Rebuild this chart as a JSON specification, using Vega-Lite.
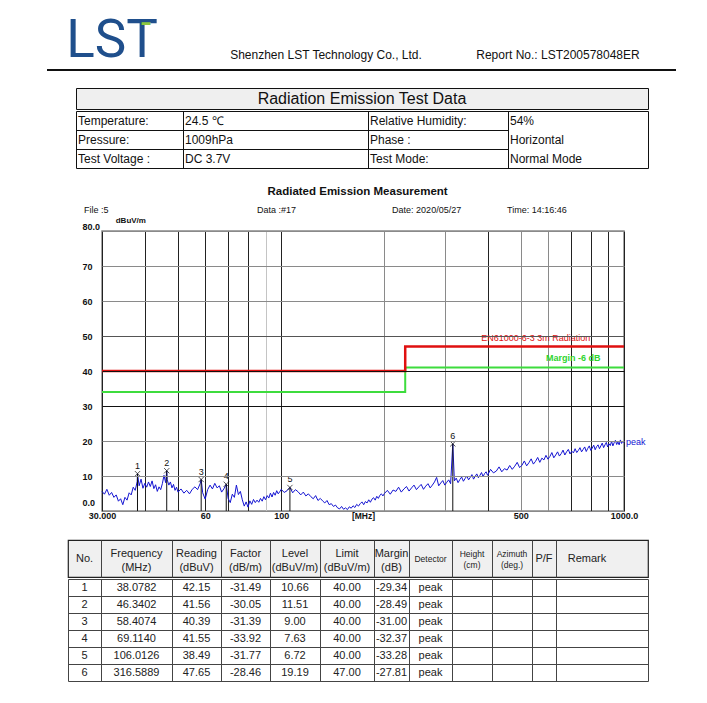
{
  "$schema": "https://vega.github.io/schema/vega-lite/v6.json",
  "padding": 0,
  "background": "white",
  "spacing": 0,
  "config": {"view": {"stroke": null}, "concat": {"spacing": 0}, "font": "Liberation Sans"},
  "datasets": {
    "info": [
      {"r": 0, "c": 0, "t": "Temperature:"}, {"r": 0, "c": 1, "t": "24.5 ℃"}, {"r": 0, "c": 2, "t": "Relative Humidity:"}, {"r": 0, "c": 3, "t": "54%"},
      {"r": 1, "c": 0, "t": "Pressure:"}, {"r": 1, "c": 1, "t": "1009hPa"}, {"r": 1, "c": 2, "t": "Phase :"}, {"r": 1, "c": 3, "t": "Horizontal"},
      {"r": 2, "c": 0, "t": "Test Voltage :"}, {"r": 2, "c": 1, "t": "DC 3.7V"}, {"r": 2, "c": 2, "t": "Test Mode:"}, {"r": 2, "c": 3, "t": "Normal Mode"}
    ],
    "limit": [{"f": 30, "v": 40}, {"f": 230, "v": 47}, {"f": 1000, "v": 47}],
    "margin": [{"f": 30, "v": 34}, {"f": 230, "v": 41}, {"f": 1000, "v": 41}],
    "peaks": [
      {"no": 1, "f": 38.0782, "v": 10.66}, {"no": 2, "f": 46.3402, "v": 11.51}, {"no": 3, "f": 58.4074, "v": 9.0},
      {"no": 4, "f": 69.114, "v": 7.63}, {"no": 5, "f": 106.0126, "v": 6.72}, {"no": 6, "f": 316.5889, "v": 19.19}
    ],
    "ann": [
      {"k": "title", "f": 167, "v": 91.1, "t": "Radiated Emission Measurement"},
      {"k": "meta", "f": 26.6, "v": 86, "t": "File :5"},
      {"k": "meta", "f": 85, "v": 86, "t": "Data :#17"},
      {"k": "meta", "f": 210.6, "v": 86, "t": "Date: 2020/05/27"},
      {"k": "meta", "f": 456, "v": 86, "t": "Time: 14:16:46"},
      {"k": "unit", "f": 32.9, "v": 82.9, "t": "dBuV/m"},
      {"k": "lim", "f": 553, "v": 49.4, "t": "EN61000-6-3 3m Radiation"},
      {"k": "mar", "f": 711, "v": 43.7, "t": "Margin -6 dB"},
      {"k": "peak", "f": 1000, "v": 19.7, "t": "peak"}
    ],
    "thead": [
      {"c": 0, "t": "No."}, {"c": 1, "t": "Frequency\n(MHz)"}, {"c": 2, "t": "Reading\n(dBuV)"}, {"c": 3, "t": "Factor\n(dB/m)"},
      {"c": 4, "t": "Level\n(dBuV/m)"}, {"c": 5, "t": "Limit\n(dBuV/m)"}, {"c": 6, "t": "Margin\n(dB)"}, {"c": 7, "t": "Detector"},
      {"c": 8, "t": "Height\n(cm)"}, {"c": 9, "t": "Azimuth\n(deg.)"}, {"c": 10, "t": "P/F"}, {"c": 11, "t": "Remark"}
    ],
    "tbl": [
      {"r": 1, "c": 0, "t": "1"}, {"r": 1, "c": 1, "t": "38.0782"}, {"r": 1, "c": 2, "t": "42.15"}, {"r": 1, "c": 3, "t": "-31.49"}, {"r": 1, "c": 4, "t": "10.66"}, {"r": 1, "c": 5, "t": "40.00"}, {"r": 1, "c": 6, "t": "-29.34"}, {"r": 1, "c": 7, "t": "peak"},
      {"r": 2, "c": 0, "t": "2"}, {"r": 2, "c": 1, "t": "46.3402"}, {"r": 2, "c": 2, "t": "41.56"}, {"r": 2, "c": 3, "t": "-30.05"}, {"r": 2, "c": 4, "t": "11.51"}, {"r": 2, "c": 5, "t": "40.00"}, {"r": 2, "c": 6, "t": "-28.49"}, {"r": 2, "c": 7, "t": "peak"},
      {"r": 3, "c": 0, "t": "3"}, {"r": 3, "c": 1, "t": "58.4074"}, {"r": 3, "c": 2, "t": "40.39"}, {"r": 3, "c": 3, "t": "-31.39"}, {"r": 3, "c": 4, "t": "9.00"}, {"r": 3, "c": 5, "t": "40.00"}, {"r": 3, "c": 6, "t": "-31.00"}, {"r": 3, "c": 7, "t": "peak"},
      {"r": 4, "c": 0, "t": "4"}, {"r": 4, "c": 1, "t": "69.1140"}, {"r": 4, "c": 2, "t": "41.55"}, {"r": 4, "c": 3, "t": "-33.92"}, {"r": 4, "c": 4, "t": "7.63"}, {"r": 4, "c": 5, "t": "40.00"}, {"r": 4, "c": 6, "t": "-32.37"}, {"r": 4, "c": 7, "t": "peak"},
      {"r": 5, "c": 0, "t": "5"}, {"r": 5, "c": 1, "t": "106.0126"}, {"r": 5, "c": 2, "t": "38.49"}, {"r": 5, "c": 3, "t": "-31.77"}, {"r": 5, "c": 4, "t": "6.72"}, {"r": 5, "c": 5, "t": "40.00"}, {"r": 5, "c": 6, "t": "-33.28"}, {"r": 5, "c": 7, "t": "peak"},
      {"r": 6, "c": 0, "t": "6"}, {"r": 6, "c": 1, "t": "316.5889"}, {"r": 6, "c": 2, "t": "47.65"}, {"r": 6, "c": 3, "t": "-28.46"}, {"r": 6, "c": 4, "t": "19.19"}, {"r": 6, "c": 5, "t": "47.00"}, {"r": 6, "c": 6, "t": "-27.81"}, {"r": 6, "c": 7, "t": "peak"}
    ],
    "trace": [
      {"f":30,"v":5.6},{"f":30.5,"v":4.8},{"f":31,"v":6.2},{"f":31.5,"v":4.5},{"f":32,"v":5.3},{"f":32.5,"v":3.9},{"f":33,"v":4.6},{"f":33.5,"v":2.8},{"f":34,"v":3.5},{"f":34.5,"v":1.8},
      {"f":35,"v":3.9},{"f":35.5,"v":3.1},{"f":36,"v":5.2},{"f":36.5,"v":4.6},{"f":37,"v":6.8},{"f":37.5,"v":5.9},{"f":38,"v":8.4},{"f":38.0782,"v":10.66},{"f":38.5,"v":7.2},{"f":39,"v":9.1},
      {"f":39.5,"v":6.5},{"f":40,"v":7.9},{"f":40.5,"v":6.8},{"f":41,"v":8.3},{"f":41.5,"v":7.0},{"f":42,"v":8.6},{"f":42.5,"v":6.4},{"f":43,"v":7.5},{"f":43.5,"v":5.6},{"f":44,"v":6.9},
      {"f":44.5,"v":6.1},{"f":45,"v":7.8},{"f":45.5,"v":10.2},{"f":46,"v":8.1},{"f":46.3402,"v":11.51},{"f":46.5,"v":8.9},{"f":47,"v":7.4},{"f":47.5,"v":8.3},{"f":48,"v":6.6},{"f":48.5,"v":7.6},
      {"f":49,"v":5.9},{"f":49.5,"v":6.8},{"f":50,"v":5.4},{"f":51,"v":6.3},{"f":52,"v":5.1},{"f":53,"v":5.9},{"f":54,"v":4.9},{"f":55,"v":6.2},{"f":56,"v":6.9},{"f":57,"v":6.1},
      {"f":58,"v":7.8},{"f":58.4074,"v":9.0},{"f":59,"v":5.2},{"f":60,"v":3.4},{"f":61,"v":6.1},{"f":62,"v":7.4},{"f":63,"v":6.3},{"f":64,"v":7.9},{"f":65,"v":6.6},{"f":66,"v":7.2},
      {"f":67,"v":5.4},{"f":68,"v":6.3},{"f":69.114,"v":7.63},{"f":70,"v":3.6},{"f":71,"v":2.4},{"f":72,"v":4.8},{"f":73,"v":3.9},{"f":74,"v":7.4},{"f":75,"v":4.7},{"f":76,"v":5.6},
      {"f":77,"v":3.2},{"f":78,"v":1.4},{"f":79,"v":2.6},{"f":80,"v":1.1},{"f":81,"v":2.9},{"f":82,"v":1.9},{"f":83,"v":3.3},{"f":84,"v":2.4},{"f":85,"v":3.1},{"f":86,"v":2.5},
      {"f":87,"v":3.6},{"f":88,"v":2.8},{"f":89,"v":4.1},{"f":90,"v":3.2},{"f":91,"v":4.4},{"f":92,"v":3.7},{"f":93,"v":5.1},{"f":94,"v":4.0},{"f":95,"v":5.3},{"f":96,"v":4.5},
      {"f":97,"v":5.8},{"f":98,"v":4.9},{"f":99,"v":5.5},{"f":100,"v":6.2},{"f":102,"v":5.3},{"f":104,"v":5.8},{"f":106.0126,"v":6.72},{"f":108,"v":5.2},{"f":110,"v":6.1},{"f":112,"v":5.5},
      {"f":114,"v":4.6},{"f":116,"v":5.4},{"f":118,"v":4.3},{"f":120,"v":4.9},{"f":122,"v":4.1},{"f":124,"v":3.5},{"f":126,"v":4.4},{"f":128,"v":3.0},{"f":130,"v":3.6},{"f":132,"v":2.9},
      {"f":134,"v":2.3},{"f":136,"v":3.0},{"f":138,"v":1.8},{"f":140,"v":2.1},{"f":142,"v":1.3},{"f":144,"v":1.7},{"f":146,"v":0.9},{"f":148,"v":0.6},{"f":150,"v":1.3},{"f":152,"v":0.5},
      {"f":154,"v":0.9},{"f":156,"v":0.4},{"f":158,"v":1.2},{"f":160,"v":0.8},{"f":162,"v":1.5},{"f":164,"v":1.0},{"f":166,"v":1.9},{"f":168,"v":1.4},{"f":170,"v":2.1},{"f":172,"v":2.6},
      {"f":174,"v":1.8},{"f":176,"v":2.7},{"f":178,"v":2.3},{"f":180,"v":3.2},{"f":182,"v":2.5},{"f":184,"v":3.4},{"f":186,"v":3.8},{"f":188,"v":3.1},{"f":190,"v":4.2},{"f":192,"v":3.6},
      {"f":194,"v":4.5},{"f":196,"v":4.9},{"f":198,"v":4.3},{"f":200,"v":5.0},{"f":204,"v":5.9},{"f":208,"v":4.8},{"f":212,"v":6.0},{"f":216,"v":5.6},{"f":220,"v":6.8},{"f":224,"v":5.4},
      {"f":228,"v":6.3},{"f":232,"v":7.0},{"f":236,"v":5.7},{"f":240,"v":6.6},{"f":244,"v":7.4},{"f":248,"v":6.1},{"f":252,"v":6.9},{"f":256,"v":7.6},{"f":260,"v":6.2},{"f":264,"v":7.1},
      {"f":268,"v":7.8},{"f":272,"v":6.6},{"f":276,"v":7.4},{"f":280,"v":8.3},{"f":284,"v":9.6},{"f":288,"v":7.2},{"f":292,"v":8.0},{"f":296,"v":8.7},{"f":300,"v":7.4},{"f":304,"v":8.2},
      {"f":308,"v":8.9},{"f":312,"v":7.8},{"f":316.5889,"v":19.19},{"f":320,"v":8.6},{"f":324,"v":9.4},{"f":328,"v":8.1},{"f":332,"v":9.0},{"f":336,"v":9.7},{"f":340,"v":8.5},{"f":344,"v":9.3},
      {"f":348,"v":10.0},{"f":352,"v":8.9},{"f":356,"v":9.6},{"f":360,"v":10.4},{"f":364,"v":9.1},{"f":368,"v":9.9},{"f":372,"v":10.6},{"f":376,"v":9.5},{"f":380,"v":10.2},{"f":384,"v":11.0},
      {"f":388,"v":9.8},{"f":392,"v":10.7},{"f":396,"v":11.2},{"f":400,"v":10.2},{"f":408,"v":11.9},{"f":416,"v":10.9},{"f":424,"v":11.4},{"f":432,"v":12.6},{"f":440,"v":11.2},{"f":448,"v":12.1},
      {"f":456,"v":11.7},{"f":464,"v":13.0},{"f":472,"v":11.9},{"f":480,"v":12.8},{"f":488,"v":13.9},{"f":496,"v":12.4},{"f":504,"v":13.1},{"f":512,"v":14.3},{"f":520,"v":12.9},{"f":528,"v":13.8},
      {"f":536,"v":14.9},{"f":544,"v":13.4},{"f":552,"v":14.2},{"f":560,"v":15.3},{"f":568,"v":13.9},{"f":576,"v":15.1},{"f":584,"v":14.6},{"f":592,"v":15.9},{"f":600,"v":14.8},{"f":608,"v":15.6},
      {"f":616,"v":16.7},{"f":624,"v":15.2},{"f":632,"v":16.0},{"f":640,"v":16.9},{"f":648,"v":15.7},{"f":656,"v":16.4},{"f":664,"v":17.4},{"f":672,"v":16.0},{"f":680,"v":16.9},{"f":688,"v":17.6},
      {"f":696,"v":16.3},{"f":704,"v":17.1},{"f":712,"v":16.6},{"f":720,"v":17.8},{"f":728,"v":16.7},{"f":736,"v":17.3},{"f":744,"v":18.1},{"f":752,"v":16.9},{"f":760,"v":17.6},{"f":768,"v":18.3},
      {"f":776,"v":17.0},{"f":784,"v":17.9},{"f":792,"v":18.6},{"f":800,"v":17.3},{"f":808,"v":18.0},{"f":816,"v":18.8},{"f":824,"v":17.5},{"f":832,"v":18.4},{"f":840,"v":18.9},{"f":848,"v":17.8},
      {"f":856,"v":18.6},{"f":864,"v":19.4},{"f":872,"v":18.1},{"f":880,"v":18.9},{"f":888,"v":19.6},{"f":896,"v":18.3},{"f":904,"v":19.2},{"f":912,"v":18.7},{"f":920,"v":19.9},{"f":928,"v":18.6},
      {"f":936,"v":19.5},{"f":944,"v":20.2},{"f":952,"v":19.0},{"f":960,"v":19.7},{"f":968,"v":18.9},{"f":976,"v":20.3},{"f":984,"v":19.3},{"f":992,"v":20.0},{"f":1000,"v":19.5}
    ]
  },
  "vconcat": [
    {
      "spacing": 0,
      "hconcat": [
        {"width": 62, "height": 69, "data": {"values": []}, "mark": "text"},
        {"spacing": 0, "vconcat": [
          {"width": 1, "height": 8, "data": {"values": []}, "mark": "text"},
          {"width": 100, "height": 60, "data": {"values": [{"t": "LST", "g": "▬"}]},
           "layer": [
             {"mark": {"type": "text", "font": "Roboto", "fontSize": 53, "dy": 3, "color": "#1f4f8c"}, "encoding": {"text": {"field": "t"}}},
             {"mark": {"type": "text", "fontSize": 9, "color": "#8cc63f", "dx": 34, "dy": -16}, "encoding": {"text": {"field": "g"}}}
           ]}
        ]},
        {"width": 64, "height": 1, "data": {"values": []}, "mark": "text"},
        {"spacing": 0, "vconcat": [
          {"width": 1, "height": 47, "data": {"values": []}, "mark": "text"},
          {"width": 200, "height": 16, "data": {"values": [{"t": "Shenzhen LST Technology Co., Ltd."}]},
           "mark": {"type": "text", "fontSize": 12, "color": "#111"}, "encoding": {"text": {"field": "t"}}}
        ]},
        {"width": 47, "height": 1, "data": {"values": []}, "mark": "text"},
        {"spacing": 0, "vconcat": [
          {"width": 1, "height": 47, "data": {"values": []}, "mark": "text"},
          {"width": 170, "height": 16, "data": {"values": [{"t": "Report No.: LST200578048ER"}]},
           "mark": {"type": "text", "fontSize": 12, "color": "#111"}, "encoding": {"text": {"field": "t"}}}
        ]}
      ]
    },
    {
      "spacing": 0,
      "hconcat": [
        {"width": 47, "height": 2, "data": {"values": []}, "mark": "text"},
        {"width": 629, "height": 2, "data": {"values": []}, "mark": "text", "view": {"fill": "#111", "stroke": null}}
      ]
    },
    {"width": 1, "height": 16, "data": {"values": []}, "mark": "text"},
    {
      "spacing": 0,
      "hconcat": [
        {"width": 75, "height": 21, "data": {"values": []}, "mark": "text"},
        {"width": 572, "height": 21, "view": {"fill": "#efefef", "stroke": "#111", "strokeWidth": 1},
         "data": {"values": [{"t": "Radiation Emission Test Data"}]},
         "mark": {"type": "text", "fontSize": 16, "color": "#111"}, "encoding": {"text": {"field": "t"}}}
      ]
    },
    {
      "spacing": 0,
      "hconcat": [
        {"width": 75, "height": 57, "data": {"values": []}, "mark": "text"},
        {"width": 572, "height": 57, "view": {"fill": "white", "stroke": "#111", "strokeWidth": 1},
         "data": {"name": "info"},
         "mark": {"type": "text", "align": "left", "dx": 2, "fontSize": 12, "color": "#111"},
         "encoding": {
           "x": {"field": "c", "type": "quantitative", "scale": {"domain": [0, 1, 2, 3], "range": [0, 107, 292, 432], "nice": false, "zero": false},
                 "axis": {"values": [1, 2, 3], "grid": true, "gridColor": "#111", "gridOpacity": 1, "labels": false, "ticks": false, "domain": false, "title": null}},
           "y": {"field": "r", "type": "quantitative", "scale": {"domain": [-0.5, 2.5], "range": [0, 57], "nice": false, "zero": false},
                 "axis": {"values": [0.5, 1.5], "grid": true, "gridColor": "#111", "gridOpacity": 1, "labels": false, "ticks": false, "domain": false, "title": null}},
           "text": {"field": "t"}
         }}
      ]
    },
    {"width": 1, "height": 16, "data": {"values": []}, "mark": "text"},
    {
      "spacing": 0,
      "hconcat": [
        {"width": 81, "height": 280, "data": {"values": []}, "mark": "text"},
        {
          "width": 522, "height": 280,
          "view": {"stroke": "#888", "strokeWidth": 1.5},
          "encoding": {
            "x": {"field": "f", "type": "quantitative", "title": "[MHz]",
                  "scale": {"type": "log", "domain": [30, 1000], "nice": false},
                  "axis": {
                    "values": [30, 40, 50, 60, 70, 80, 90, 100, 200, 300, 400, 500, 600, 700, 800, 900, 1000],
                    "labelExpr": "datum.value==30?'30.000':datum.value==1000?'1000.0':(datum.value==60||datum.value==100||datum.value==500)?format(datum.value,'d'):''",
                    "grid": true,
                    "gridColor": {"condition": [{"test": "datum.value==90", "value": "#c4c4c4"}, {"test": "indexof([200,300,500,600],datum.value)>=0", "value": "#8a8a8a"}], "value": "#222"},
                    "gridOpacity": 1,
                    "ticks": false, "domain": false,
                    "labelFontSize": 9, "labelFontWeight": "bold", "labelColor": "#111", "labelPadding": 0,
                    "labelFlush": false, "labelOverlap": false, "labelBound": false,
                    "titleFontSize": 8.5, "titleFontWeight": "bold", "titleColor": "#111", "titleY": 0, "titleBaseline": "top", "titlePadding": 0
                  }},
            "y": {"field": "v", "type": "quantitative", "title": null,
                  "scale": {"domain": [0, 80], "nice": false, "zero": false},
                  "axis": {
                    "values": [0, 10, 20, 30, 40, 50, 60, 70, 80],
                    "grid": true, "zindex": 1,
                    "gridColor": {"condition": [{"test": "datum.value==30||datum.value==40", "value": "#111"}, {"test": "datum.value==50", "value": "#555"}], "value": "#8a8a8a"},
                    "gridOpacity": 1,
                    "ticks": false, "domain": false,
                    "labelAlign": "left", "labelPadding": 20, "labelFontSize": 9, "labelFontWeight": "bold", "labelColor": "#111",
                    "labelExpr": "datum.value==80?'80.0':datum.value==0?'0.0':format(datum.value,'d')",
                    "labelOffset": {"condition": [{"test": "datum.value==80", "value": -5}, {"test": "datum.value==0", "value": -9}], "value": 0},
                    "labelFlush": false, "labelOverlap": false
                  }}
          },
          "layer": [
            {"data": {"name": "margin"}, "mark": {"type": "line", "interpolate": "step-after", "color": "#3ddc3d", "strokeWidth": 2}},
            {"data": {"name": "limit"}, "mark": {"type": "line", "interpolate": "step-after", "color": "#e01010", "strokeWidth": 2.5}},
            {"data": {"name": "trace"}, "mark": {"type": "line", "color": "#1414d2", "strokeWidth": 1}},
            {"data": {"name": "peaks"}, "mark": {"type": "rule", "color": "#111", "strokeWidth": 1}, "encoding": {"y2": {"datum": 0}}},
            {"data": {"name": "peaks"}, "mark": {"type": "point", "shape": "M-1,-1L1,1M-1,1L1,-1", "size": 28, "color": "#111", "filled": false, "strokeWidth": 1}},
            {"data": {"name": "peaks"}, "mark": {"type": "text", "fontSize": 9, "dy": -8, "color": "#111"}, "encoding": {"text": {"field": "no"}}},
            {"data": {"name": "ann"}, "transform": [{"filter": "datum.k=='title'"}],
             "mark": {"type": "text", "fontSize": 11.5, "fontWeight": "bold", "color": "#111"}, "encoding": {"text": {"field": "t"}}},
            {"data": {"name": "ann"}, "transform": [{"filter": "datum.k=='meta'"}],
             "mark": {"type": "text", "fontSize": 9, "align": "left", "color": "#111"}, "encoding": {"text": {"field": "t"}}},
            {"data": {"name": "ann"}, "transform": [{"filter": "datum.k=='unit'"}],
             "mark": {"type": "text", "fontSize": 8, "fontWeight": "bold", "align": "left", "color": "#111"}, "encoding": {"text": {"field": "t"}}},
            {"data": {"name": "ann"}, "transform": [{"filter": "datum.k=='lim'"}],
             "mark": {"type": "text", "fontSize": 9, "color": "#e01010"}, "encoding": {"text": {"field": "t"}}},
            {"data": {"name": "ann"}, "transform": [{"filter": "datum.k=='mar'"}],
             "mark": {"type": "text", "fontSize": 9, "fontWeight": "bold", "color": "#2fd52f"}, "encoding": {"text": {"field": "t"}}},
            {"data": {"name": "ann"}, "transform": [{"filter": "datum.k=='peak'"}],
             "mark": {"type": "text", "fontSize": 9, "align": "left", "dx": 2, "color": "#1414d2"}, "encoding": {"text": {"field": "t"}}}
          ]
        }
      ]
    },
    {"width": 1, "height": 18, "data": {"values": []}, "mark": "text"},
    {
      "spacing": 0,
      "hconcat": [
        {"width": 67, "height": 37, "data": {"values": []}, "mark": "text"},
        {"width": 580, "height": 37, "view": {"fill": "#f0f0f0", "stroke": "#222", "strokeWidth": 1.2},
         "data": {"name": "thead"},
         "encoding": {
           "x": {"field": "c", "type": "quantitative",
                 "scale": {"domain": [-0.5, 0, 0.5, 1, 1.5, 2, 2.5, 3, 3.5, 4, 4.5, 5, 5.5, 6, 6.5, 7, 7.5, 8, 8.5, 9, 9.5, 10, 10.5, 11, 11.5],
                           "range": [0, 16.5, 33, 68.5, 104, 128.5, 153, 177.5, 202, 227, 252, 279, 306, 323.5, 341, 362.5, 384, 404, 424, 444, 464, 476, 488, 519, 580],
                           "nice": false, "zero": false},
                 "axis": {"values": [0.5, 1.5, 2.5, 3.5, 4.5, 5.5, 6.5, 7.5, 8.5, 9.5, 10.5], "grid": true, "gridColor": "#444", "gridOpacity": 1, "labels": false, "ticks": false, "domain": false, "title": null}},
           "text": {"field": "t"}
         },
         "layer": [
           {"transform": [{"filter": {"field": "c", "oneOf": [0, 10, 11]}}],
            "mark": {"type": "text", "fontSize": 11, "color": "#222"}},
           {"transform": [{"filter": {"field": "c", "oneOf": [1, 2, 3, 4, 5, 6]}}],
            "mark": {"type": "text", "fontSize": 11, "lineBreak": "\n", "lineHeight": 14, "dy": -5, "color": "#222"}},
           {"transform": [{"filter": {"field": "c", "oneOf": [7]}}],
            "mark": {"type": "text", "fontSize": 8.5, "color": "#222"}},
           {"transform": [{"filter": {"field": "c", "oneOf": [8, 9]}}],
            "mark": {"type": "text", "fontSize": 8.5, "lineBreak": "\n", "lineHeight": 11, "dy": -5, "color": "#222"}}
         ]}
      ]
    },
    {
      "spacing": 0,
      "hconcat": [
        {"width": 67, "height": 102, "data": {"values": []}, "mark": "text"},
        {"width": 580, "height": 102, "view": {"fill": "white", "stroke": "#444", "strokeWidth": 1},
         "data": {"name": "tbl"},
         "mark": {"type": "text", "fontSize": 11, "color": "#222"},
         "encoding": {
           "x": {"field": "c", "type": "quantitative",
                 "scale": {"domain": [-0.5, 0, 0.5, 1, 1.5, 2, 2.5, 3, 3.5, 4, 4.5, 5, 5.5, 6, 6.5, 7, 7.5, 8, 8.5, 9, 9.5, 10, 10.5, 11, 11.5],
                           "range": [0, 16.5, 33, 68.5, 104, 128.5, 153, 177.5, 202, 227, 252, 279, 306, 323.5, 341, 362.5, 384, 404, 424, 444, 464, 476, 488, 519, 580],
                           "nice": false, "zero": false},
                 "axis": {"values": [0.5, 1.5, 2.5, 3.5, 4.5, 5.5, 6.5, 7.5, 8.5, 9.5, 10.5], "grid": true, "gridColor": "#444", "gridOpacity": 1, "labels": false, "ticks": false, "domain": false, "title": null}},
           "y": {"field": "r", "type": "quantitative",
                 "scale": {"domain": [0.5, 6.5], "range": [0, 102], "nice": false, "zero": false},
                 "axis": {"values": [1.5, 2.5, 3.5, 4.5, 5.5], "grid": true, "gridColor": "#444", "gridOpacity": 1, "labels": false, "ticks": false, "domain": false, "title": null}},
           "text": {"field": "t"}
         }}
      ]
    }
  ]
}
